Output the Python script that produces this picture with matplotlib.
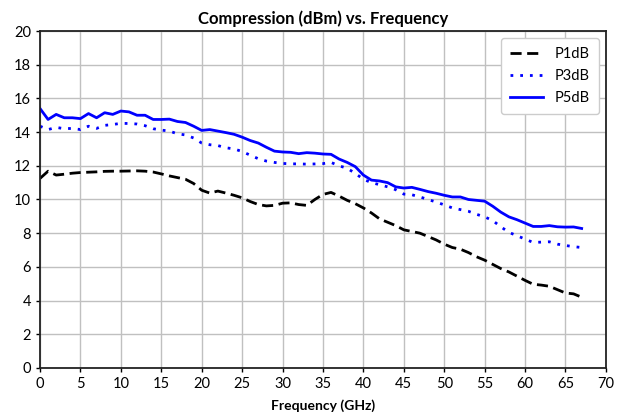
import matplotlib.pyplot as plt

# Frequenz in GHz (1 GHz Schritt)
freq = list(range(0, 68))

p1db = [11.25, 11.68, 11.45, 11.5, 11.56, 11.6, 11.62, 11.64, 11.67, 11.68,
        11.68, 11.69, 11.7, 11.68, 11.63, 11.52, 11.4, 11.3, 11.2, 10.95,
        10.55, 10.38, 10.5, 10.38, 10.25, 10.1, 9.88, 9.7, 9.62, 9.65,
        9.78, 9.8, 9.7, 9.65, 10.0, 10.3, 10.42, 10.2, 9.95, 9.75,
        9.5, 9.2, 8.85, 8.65, 8.45, 8.2, 8.1, 8.0, 7.8, 7.6,
        7.35, 7.15, 7.05, 6.85, 6.6, 6.4, 6.15, 5.9, 5.7, 5.45,
        5.2, 4.97, 4.92, 4.85, 4.65, 4.45, 4.4, 4.2]

p3db = [14.35, 14.15, 14.28, 14.2, 14.22, 14.15, 14.35, 14.22, 14.4, 14.45,
        14.52, 14.51, 14.48, 14.38, 14.2, 14.12, 14.06, 13.9, 13.83, 13.65,
        13.35, 13.25, 13.2, 13.07, 13.0, 12.85, 12.63, 12.42, 12.28, 12.2,
        12.14, 12.12, 12.11, 12.1, 12.11, 12.13, 12.2, 12.0, 11.85, 11.55,
        11.2, 11.0, 10.88, 10.75, 10.58, 10.32, 10.28, 10.15, 10.0, 9.85,
        9.68, 9.5, 9.4, 9.3, 9.12, 8.97, 8.75, 8.38, 8.05, 7.85,
        7.65, 7.45, 7.47, 7.49, 7.35, 7.27, 7.2, 7.15]

p5db = [15.4, 14.75, 15.05, 14.85, 14.85, 14.8, 15.1, 14.85, 15.15, 15.05,
        15.25, 15.2, 15.0, 15.0, 14.75, 14.75, 14.77, 14.63, 14.57, 14.35,
        14.1, 14.15, 14.06, 13.97, 13.87, 13.7, 13.5, 13.35, 13.1, 12.87,
        12.82, 12.8, 12.72, 12.78, 12.75, 12.7, 12.68, 12.4, 12.2, 11.95,
        11.45, 11.15, 11.1, 11.0, 10.75, 10.68, 10.72, 10.6, 10.47, 10.37,
        10.25, 10.15, 10.15, 10.0, 9.95, 9.9, 9.6, 9.25, 8.97, 8.8,
        8.6, 8.4, 8.4, 8.45, 8.38, 8.36, 8.37, 8.28]

plt.rcParams['font.family'] = ['Lato', 'DejaVu Sans']

fig = plt.figure(figsize=(6.24, 4.15), dpi=100)
ax = fig.add_axes([0.0641, 0.1133, 0.9069, 0.812])

ax.plot(freq, p1db, color='black', linewidth=2, linestyle=(0, (4, 2)), label='P1dB')
ax.plot(freq, p3db, color='blue', linewidth=2, linestyle=(0, (1, 2.5)), label='P3dB')
ax.plot(freq, p5db, color='blue', linewidth=2, label='P5dB')

ax.set_xlim(0, 70)
ax.set_ylim(0, 20)
ax.set_xticks(range(0, 71, 5))
ax.set_yticks(range(0, 21, 2))
ax.grid(True, color='#c0c0c0', linewidth=1)
ax.set_axisbelow(True)
ax.tick_params(labelsize=10.5, length=3, width=1)
for s in ax.spines.values():
    s.set_linewidth(1.3)
    s.set_color('#222222')

ax.set_title('Compression (dBm) vs. Frequency', fontsize=12, fontweight='bold', pad=5)
ax.set_xlabel('Frequency (GHz)', fontsize=10, fontweight='bold', labelpad=6)

leg = ax.legend(loc='upper right', fontsize=10.5, handlelength=2.3, framealpha=1,
                edgecolor='#cccccc', borderpad=0.6, labelspacing=0.55)

plt.savefig('out.png', dpi=100)
